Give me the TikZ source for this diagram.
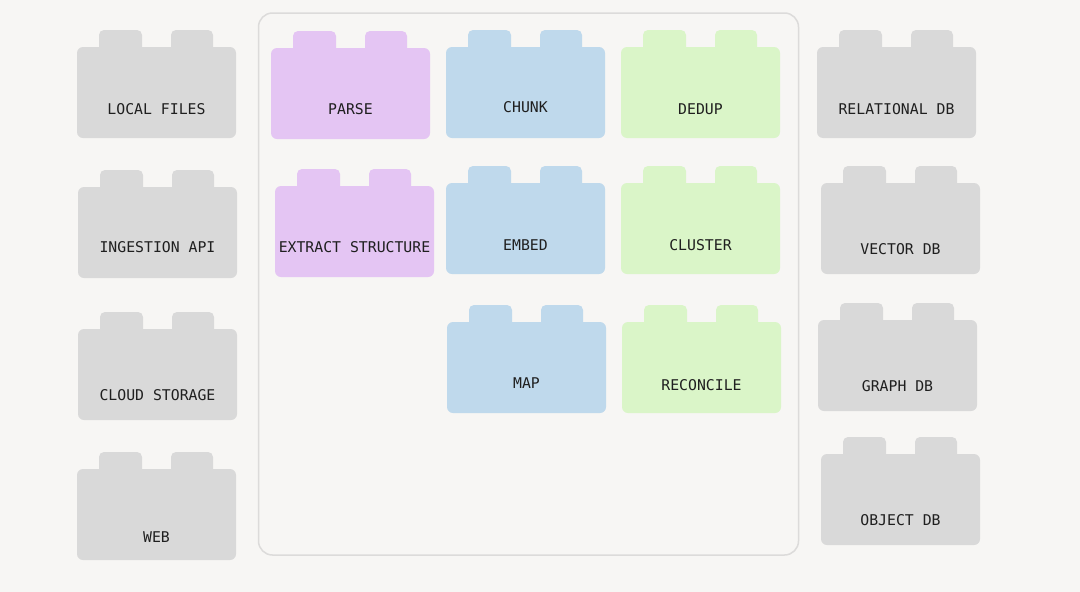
\documentclass[tikz,border=0pt]{standalone}
\usepackage{fontspec}
\setmonofont{DejaVu Sans Mono}
\definecolor{bg}{HTML}{F7F6F4}
\definecolor{greyb}{HTML}{D9D9D9}
\definecolor{purpleb}{HTML}{E4C5F3}
\definecolor{blueb}{HTML}{BFD9EC}
\definecolor{greenb}{HTML}{DAF5C8}
\definecolor{frame}{HTML}{DCDBDA}
\definecolor{ink}{HTML}{1F1F1F}
\tikzset{
  brickbody/.style={rectangle, rounded corners=6pt, minimum width=159pt, minimum height=91pt, inner sep=0pt, draw=none},
  bricklabel/.style={anchor=center, inner sep=0pt, text=ink, font=\ttfamily\fontsize{14.8}{16}\selectfont},
  stud/.style={rounded corners=5pt}
}
% name, x, y (body top-left), fill, label, label centre height above body bottom
\newcommand\brick[6]{%
  \begin{scope}[shift={(#2,#3)}]
    \fill[stud, #4] (22,-17) rectangle (65,6);
    \fill[stud, #4] (94,-17) rectangle (136,6);
    \node[brickbody, fill=#4] (#1) at (79.5,45.5) {};
  \end{scope}
  \node[bricklabel] (#1-t) at ([yshift=#6pt]#1.south) {#5};
}
\begin{document}
\begin{tikzpicture}[x=1pt,y=-1pt]
\useasboundingbox (0,0) rectangle (1080,592);
\fill[bg] (0,0) rectangle (1080,592);
\node[draw=frame, line width=1.5pt, rounded corners=14pt, minimum width=540pt, minimum height=542pt, inner sep=0pt] (pipeline) at (528.5,284) {};
% sources
\brick{local}{77}{47}{greyb}{LOCAL FILES}{29.5}
\brick{ingest}{78}{187}{greyb}{INGESTION API}{31}
\brick{cloud}{78}{329}{greyb}{CLOUD STORAGE}{25.5}
\brick{web}{77}{469}{greyb}{WEB}{23.5}
% pipeline
\brick{parse}{271}{48}{purpleb}{PARSE}{30}
\brick{extract}{275}{186}{purpleb}{EXTRACT STRUCTURE}{30}
\brick{chunk}{446}{47}{blueb}{CHUNK}{31}
\brick{embed}{446}{183}{blueb}{EMBED}{29}
\brick{map}{447}{322}{blueb}{MAP}{30}
\brick{dedup}{621}{47}{greenb}{DEDUP}{29}
\brick{cluster}{621}{183}{greenb}{CLUSTER}{29}
\brick{reconcile}{622}{322}{greenb}{RECONCILE}{28}
% sinks
\brick{reldb}{817}{47}{greyb}{RELATIONAL DB}{29}
\brick{vecdb}{821}{183}{greyb}{VECTOR DB}{25}
\brick{graphdb}{818}{320}{greyb}{GRAPH DB}{25}
\brick{objdb}{821}{454}{greyb}{OBJECT DB}{25}
\end{tikzpicture}
\end{document}
